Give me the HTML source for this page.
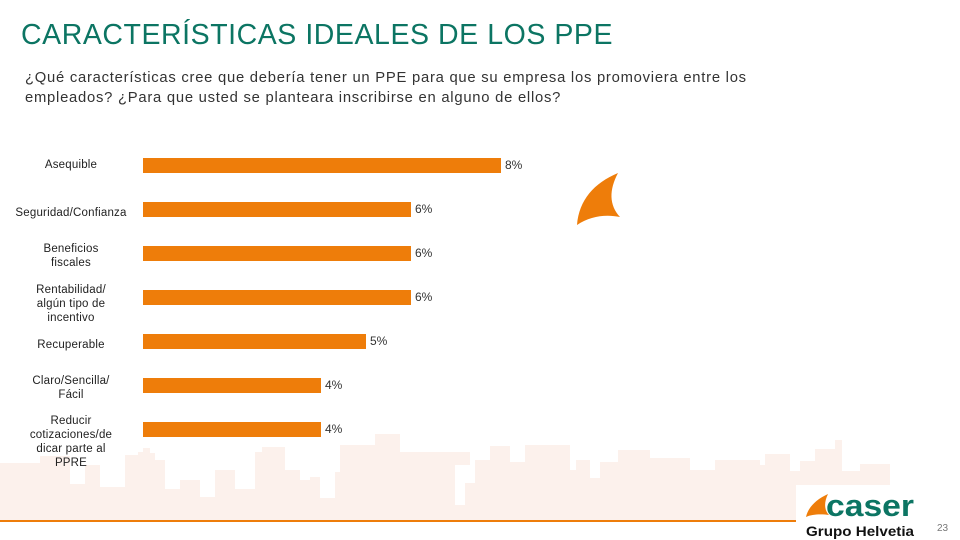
<!DOCTYPE html>
<html><head><meta charset="utf-8"><style>
body{margin:0;width:960px;height:540px;background:#fff;position:relative;overflow:hidden;font-family:"Liberation Sans",sans-serif}
.t{position:absolute;left:21px;top:19px;font-size:28.5px;color:#0c7563;letter-spacing:0.55px;white-space:nowrap}
.s{position:absolute;left:25px;top:68px;font-size:14.8px;color:#333;line-height:20px;white-space:nowrap;letter-spacing:0.75px}
.lab{position:absolute;width:130px;left:6px;text-align:center;font-size:11.5px;color:#222;line-height:14px;letter-spacing:0.2px}
.bar{position:absolute;left:143px;height:15px;background:#ee7d0a}
.v{position:absolute;font-size:12px;color:#333}
</style></head><body>
<svg width="960" height="540" style="position:absolute;left:0;top:0">
<polygon fill="#fcf1ec" points="0,520 0,463 40,463 40,456 70,456 70,484 85,484 85,465 100,465 100,487 125,487 125,455 138,455 138,452 143,452 143,448 150,448 150,453 155,453 155,460 165,460 165,489 180,489 180,480 200,480 200,497 215,497 215,470 235,470 235,489 255,489 255,452 262,452 262,447 285,447 285,470 300,470 300,480 310,480 310,477 320,477 320,498 335,498 335,472 340,472 340,445 375,445 375,434 400,434 400,452 470,452 470,465 455,465 455,505 465,505 465,483 475,483 475,460 490,460 490,446 510,446 510,462 525,462 525,445 570,445 570,470 576,470 576,460 590,460 590,478 600,478 600,462 618,462 618,450 650,450 650,458 690,458 690,470 715,470 715,460 760,460 760,465 765,465 765,454 790,454 790,471 800,471 800,461 815,461 815,449 835,449 835,440 842,440 842,471 860,471 860,464 890,464 890,496 910,496 910,485 960,485 960,520"/>
<line x1="0" y1="521" x2="796" y2="521" stroke="#ee7d0a" stroke-width="2"/>
<rect x="796" y="485" width="164" height="55" fill="#fff"/>
<path d="M577,225 C579,200 594,183 618,173 C609,190 609,205 620,217 C606,214 590,216 577,225 Z" fill="#ee7d0a"/>
<path d="M806,517 C808,508 815,500 828,494 C824,502 824,510 829,515 C822,514 812,514 806,517 Z" fill="#ee7d0a"/>
<text x="826" y="516" font-family="Liberation Sans,sans-serif" font-size="31" font-weight="bold" fill="#0c7563" textLength="88" lengthAdjust="spacingAndGlyphs">caser</text>
<text x="806" y="536" font-family="Liberation Sans,sans-serif" font-size="13.5" font-weight="bold" fill="#111" textLength="108" lengthAdjust="spacingAndGlyphs">Grupo Helvetia</text>
<text x="937" y="531" font-family="Liberation Sans,sans-serif" font-size="10" fill="#777">23</text>
</svg>
<div class="t">CARACTERÍSTICAS IDEALES DE LOS PPE</div>
<div class="s">¿Qué características cree que debería tener un PPE para que su empresa los promoviera entre los<br>empleados? ¿Para que usted se planteara inscribirse en alguno de ellos?</div>

<div class="lab" style="top:158px">Asequible</div>
<div class="bar" style="top:158px;width:358px"></div><div class="v" style="left:505px;top:158px">8%</div>

<div class="lab" style="top:206px">Seguridad/Confianza</div>
<div class="bar" style="top:202px;width:268px"></div><div class="v" style="left:415px;top:202px">6%</div>

<div class="lab" style="top:242px">Beneficios<br>fiscales</div>
<div class="bar" style="top:246px;width:268px"></div><div class="v" style="left:415px;top:246px">6%</div>

<div class="lab" style="top:283px">Rentabilidad/<br>algún tipo de<br>incentivo</div>
<div class="bar" style="top:290px;width:268px"></div><div class="v" style="left:415px;top:290px">6%</div>

<div class="lab" style="top:338px">Recuperable</div>
<div class="bar" style="top:334px;width:223px"></div><div class="v" style="left:370px;top:334px">5%</div>

<div class="lab" style="top:374px">Claro/Sencilla/<br>Fácil</div>
<div class="bar" style="top:378px;width:178px"></div><div class="v" style="left:325px;top:378px">4%</div>

<div class="lab" style="top:414px">Reducir<br>cotizaciones/de<br>dicar parte al<br>PPRE</div>
<div class="bar" style="top:422px;width:178px"></div><div class="v" style="left:325px;top:422px">4%</div>
</body></html>
